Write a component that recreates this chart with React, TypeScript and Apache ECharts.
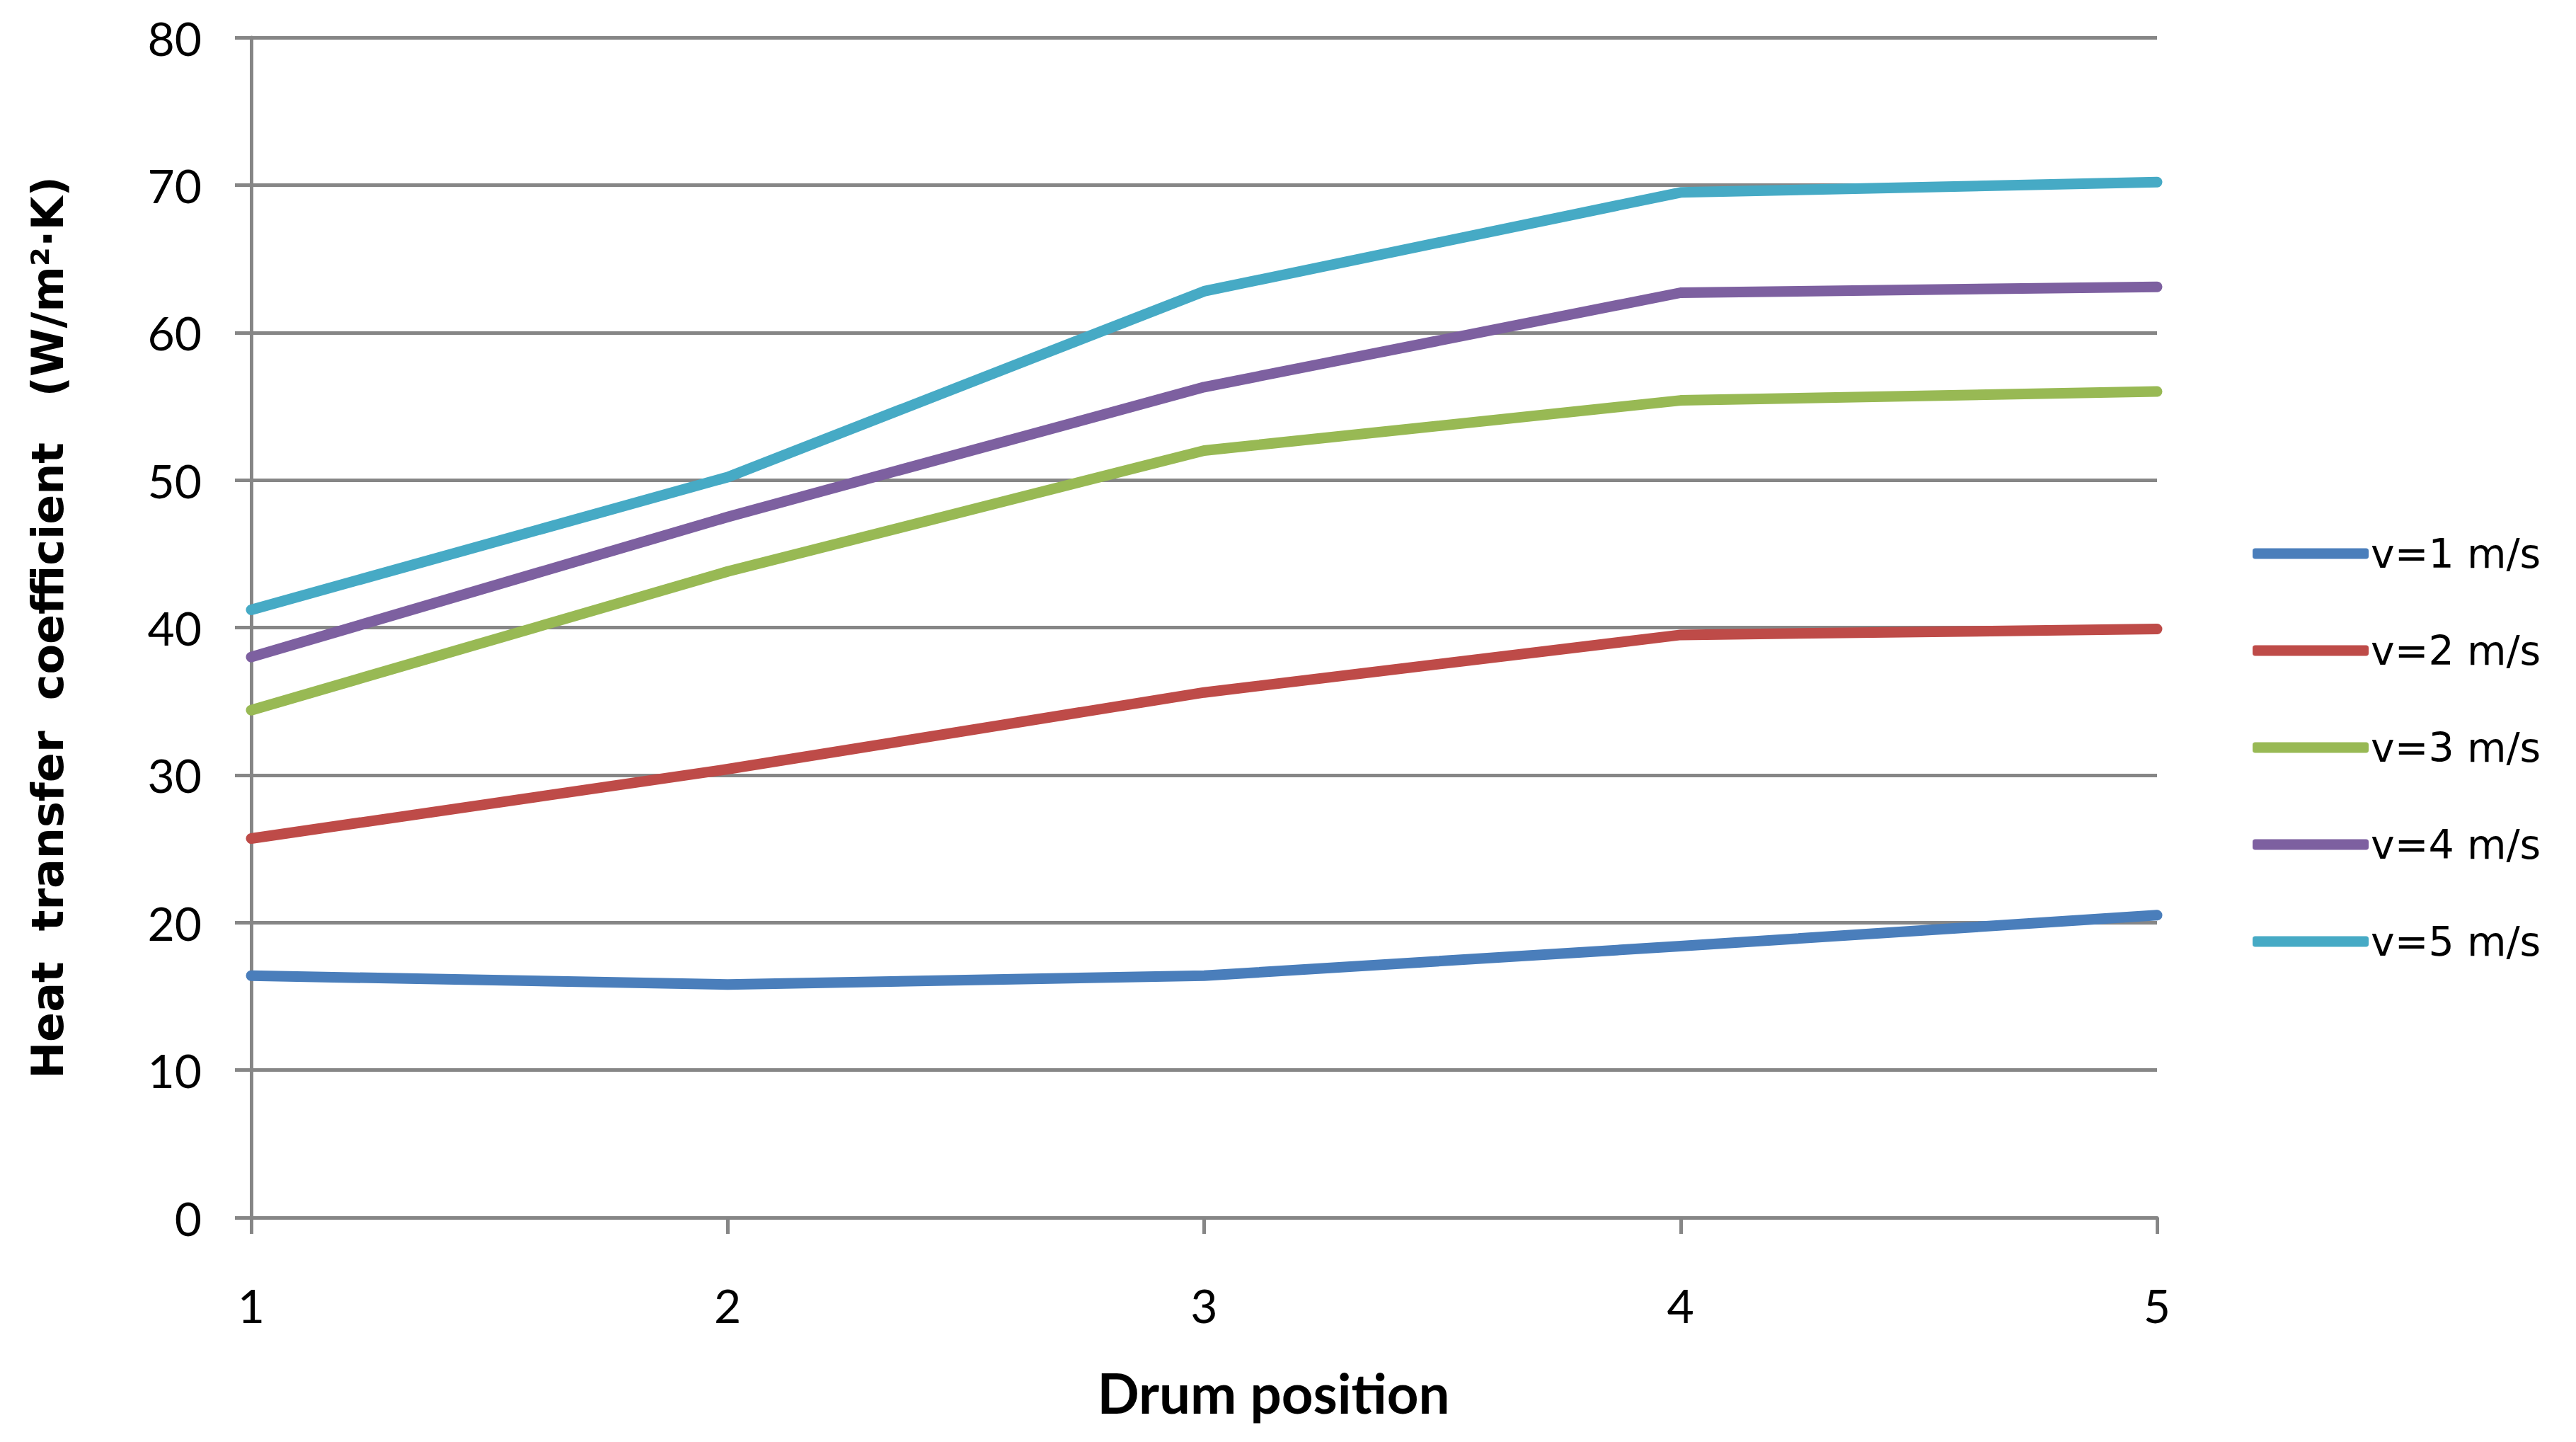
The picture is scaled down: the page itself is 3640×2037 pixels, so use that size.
import React, { useEffect, useRef } from "react";
import * as echarts from "echarts";

const categories = ["1", "2", "3", "4", "5"];
const seriesNames = ["v=1 m/s", "v=2 m/s", "v=3 m/s", "v=4 m/s", "v=5 m/s"];
const v1 = [16.4, 15.8, 16.4, 18.4, 20.5];
const v2 = [25.7, 30.4, 35.6, 39.5, 39.9];
const v3 = [34.4, 43.8, 52.0, 55.4, 56.0];
const v4 = [38.0, 47.5, 56.3, 62.7, 63.1];
const v5 = [41.2, 50.2, 62.8, 69.5, 70.2];
const seriesValues = [v1, v2, v3, v4, v5];
const colors = ["#4a7ebb", "#be4b48", "#98b954", "#7d60a0", "#46aac5"];

const xTitle = "Drum position";
const yTitle = "Heat  transfer  coefficient   (W/m²·K)";

export default function App() {
  const ref = useRef<HTMLDivElement>(null);
  useEffect(() => {
    if (!ref.current) return;
    const chart = echarts.init(ref.current, null, { renderer: "svg" });
    const grey = "#868686";
    chart.setOption({
      animation: false,
      backgroundColor: "#ffffff",
      grid: { left: 355, right: 592, top: 53, bottom: 317, containLabel: false },
      legend: {
        orient: "vertical",
        left: 3178,
        top: 742,
        itemWidth: 164,
        itemHeight: 15,
        itemGap: 67,
        icon: "roundRect",
        textStyle: { fontFamily: "DejaVu Sans", fontSize: 57, color: "#000", lineHeight: 70, padding: [0, 0, 0, -2] },
        data: seriesNames,
      },
      xAxis: {
        type: "category",
        data: categories,
        boundaryGap: false,
        axisLine: { show: true, lineStyle: { color: grey, width: 5 } },
        axisTick: { show: true, length: 23, lineStyle: { color: grey, width: 5 } },
        axisLabel: { fontFamily: "Lato", fontSize: 66, color: "#000", margin: 90 },
        splitLine: { show: false },
        name: xTitle,
        nameLocation: "middle",
        nameGap: 208,
        nameTextStyle: {
          fontFamily: "Lato",
          fontWeight: "bold",
          fontSize: 78,
          color: "#000",
          padding: [0, 0, 0, 196],
        },
      },
      yAxis: {
        type: "value",
        min: 0,
        max: 80,
        interval: 10,
        axisLine: { show: true, lineStyle: { color: grey, width: 5 } },
        axisTick: { show: true, length: 23, lineStyle: { color: grey, width: 5 } },
        axisLabel: { fontFamily: "Lato", fontSize: 66, color: "#000", margin: 70 },
        splitLine: { show: true, lineStyle: { color: grey, width: 5 } },
        name: yTitle,
        nameLocation: "middle",
        nameRotate: 90,
        nameGap: 257,
        nameTextStyle: { fontFamily: "DejaVu Sans", fontWeight: "bold", fontSize: 62, color: "#000" },
      },
      series: seriesValues.map((vals, i) => ({
        name: seriesNames[i],
        type: "line",
        data: vals,
        showSymbol: false,
        symbol: "none",
        color: colors[i],
        lineStyle: { color: colors[i], width: 15, cap: "round", join: "round" },
        itemStyle: { color: colors[i] },
      })),
    });
    return () => chart.dispose();
  }, []);
  return (
    <div
      ref={ref}
      style={{ position: "fixed", left: 0, top: 0, width: 3640, height: 2037 }}
    />
  );
}
